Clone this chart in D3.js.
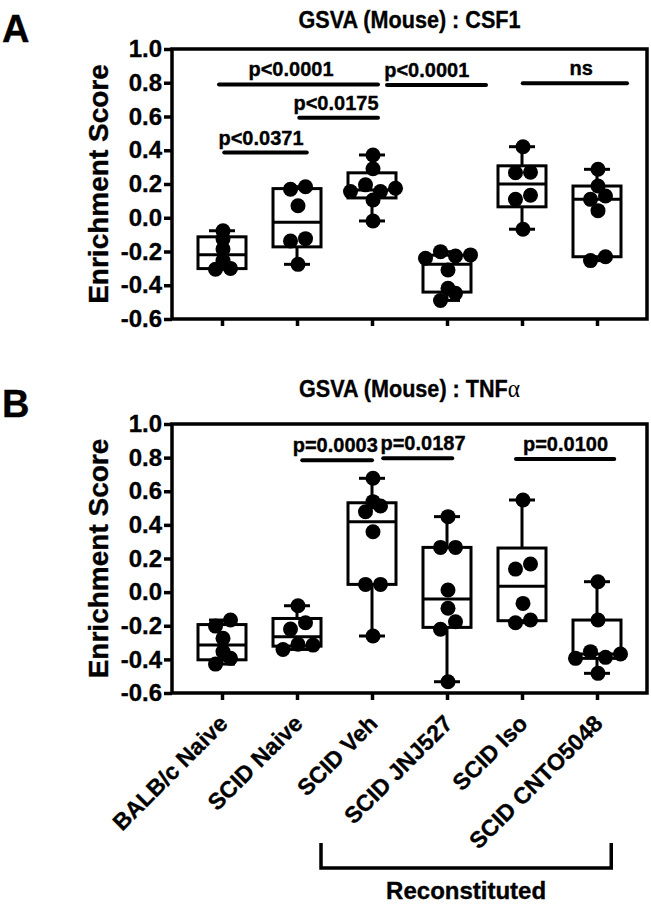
<!DOCTYPE html>
<html><head><meta charset="utf-8">
<script src="https://cdn.jsdelivr.net/npm/d3@7"></script>
<style>
html,body{margin:0;padding:0;background:#fff;}
svg text{font-family:"Liberation Sans",Arial,Helvetica,sans-serif;font-weight:bold;fill:#000;stroke:#000;stroke-width:0.35px;}
</style>
</head><body>
<svg id="chart" width="651" height="908"></svg>
<script>
// ---------- data ----------
const categories = ["BALB/c Naive","SCID Naive","SCID Veh","SCID JNJ527","SCID Iso","SCID CNTO5048"];
const yTickValues = [-0.6,-0.4,-0.2,0.0,0.2,0.4,0.6,0.8,1.0];

// Panel A: GSVA (Mouse) : CSF1 — enrichment scores per group
const csf1BALBcNaive = [-0.305,-0.300,-0.254,-0.185,-0.125,-0.077];
const csf1SCIDNaive  = [-0.276,-0.138,-0.124,0.071,0.169,0.184];
const csf1SCIDVeh    = [-0.019,0.105,0.155,0.195,0.155,0.175,0.290,0.372];
const csf1SCIDJNJ527 = [-0.490,-0.448,-0.418,-0.310,-0.240,-0.201,-0.227,-0.220];
const csf1SCIDIso    = [-0.068,0.109,0.133,0.267,0.270,0.421];
const csf1SCIDCNTO   = [-0.254,-0.231,0.042,0.109,0.129,0.188,0.287];

// Panel B: GSVA (Mouse) : TNFα
const tnfBALBcNaive = [-0.428,-0.394,-0.354,-0.275,-0.202,-0.166];
const tnfSCIDNaive  = [-0.341,-0.310,-0.315,-0.220,-0.182,-0.081];
const tnfSCIDVeh    = [-0.261,0.046,0.046,0.359,0.478,0.512,0.538,0.677];
const tnfSCIDJNJ527 = [-0.533,-0.221,-0.176,-0.096,0.013,0.266,0.266,0.449];
const tnfSCIDIso    = [-0.182,-0.166,-0.067,0.137,0.167,0.548];
const tnfSCIDCNTO   = [-0.483,-0.394,-0.354,-0.388,-0.368,-0.166,0.062];

// significance annotations (from/to/at in category-index units, level in score units)
const csf1SigLabels = ["p<0.0001","p<0.0175","p<0.0371","p<0.0001","ns"];
const csf1SigFrom   = [-0.04,1.03,0.03,2.20,4.01];
const csf1SigTo     = [2.08,2.08,1.13,3.52,5.40];
const csf1SigAt     = [0.92,1.52,0.52,2.73,4.79];
const csf1SigLevel  = [0.790,0.593,0.386,0.787,0.797];

const tnfSigLabels = ["p=0.0003","p=0.0187","p=0.0100"];
const tnfSigFrom   = [1.07,2.15,3.92];
const tnfSigTo     = [2.00,3.07,5.23];
const tnfSigAt     = [1.51,2.68,4.58];
const tnfSigLevel  = [0.785,0.796,0.792];

const bracketFrom = 1.32, bracketTo = 5.19, bracketLabel = "Reconstituted";

// ---------- helpers ----------
const svg = d3.select("#chart");
svg.append("rect").attr("width",651).attr("height",908).attr("fill","#fff");

function quant(sorted, p){ // GraphPad-style (n+1) percentile
  const n = sorted.length;
  let r = p*(n+1); if (r<1) r=1; if (r>n) r=n;
  const lo = Math.floor(r), f = r-lo;
  if (lo>=n) return sorted[n-1];
  return sorted[lo-1] + f*(sorted[lo]-sorted[lo-1]);
}
function swarm(values, y, thresh, step){
  const idx = values.map((v,i)=>i).sort((a,b)=>values[a]-values[b] || a-b);
  const rows=[]; let cur=null;
  idx.forEach(i=>{
    const py=y(values[i]);
    if (cur && Math.abs(py-cur.y0)<thresh) cur.items.push(i);
    else { cur={y0:py,items:[i]}; rows.push(cur); }
  });
  const off = new Array(values.length);
  rows.forEach(r=>{ r.items.sort((a,b)=>a-b); const n=r.items.length;
    r.items.forEach((i,k)=>off[i]=(k-(n-1)/2)*step); });
  return off;
}
const fmt = d => d3.format(".1f")(d).replace("\u2212","-");

const left = 172, right = 647;
const x = d3.scalePoint().domain(categories).range([left,right]).padding(0.6667);
const step = x.step();
const xi = i => x(categories[0]) + i*step;

function panel(cfg){
  const y = d3.scaleLinear().domain([-0.6,1.0]).range([cfg.bottom,cfg.top]);
  const g = svg.append("g");

  // letter + title
  g.append("text").attr("x",2).attr("y",cfg.top-7).style("font-size","38px").text(cfg.letter);
  const t = g.append("text").attr("transform",`translate(${(left+right)/2},${cfg.titleY}) scale(0.9,1)`)
    .attr("text-anchor","middle").style("font-size","24px").text(cfg.title);
  if (cfg.titleExtra) t.append("tspan").style("font-family","'Liberation Serif',serif")
     .style("font-weight","normal").style("stroke-width","0").style("font-size","26px").text(cfg.titleExtra);

  // y axis
  const ya = g.append("g").attr("transform",`translate(${left},0)`)
    .call(d3.axisLeft(y).tickValues(yTickValues).tickSize(8).tickSizeOuter(0).tickPadding(2).tickFormat(fmt));
  ya.select(".domain").remove();
  ya.selectAll(".tick line").attr("stroke","#000").attr("stroke-width",3.5);
  ya.selectAll(".tick text").style("font-size","24px").style("font-family","'Liberation Sans',Arial,sans-serif").style("font-weight","bold");

  // x axis ticks
  const xa = g.append("g").attr("transform",`translate(0,${cfg.bottom})`)
    .call(d3.axisBottom(x).tickSize(7).tickSizeOuter(0).tickFormat(""));
  xa.select(".domain").remove();
  xa.selectAll(".tick line").attr("stroke","#000").attr("stroke-width",3.5);

  // frame
  g.append("rect").attr("x",left).attr("y",cfg.top).attr("width",right-left).attr("height",cfg.bottom-cfg.top)
    .attr("fill","none").attr("stroke","#000").attr("stroke-width",3.5);

  // y title
  g.append("text").attr("transform",`translate(108,${(cfg.top+cfg.bottom)/2}) rotate(-90)`)
    .attr("text-anchor","middle").style("font-size","28px").text("Enrichment Score");

  // boxes
  const bw = 24, cw = 13;
  cfg.groups.forEach((vals,gi)=>{
    const cx = x(categories[gi]);
    const s = vals.slice().sort((a,b)=>a-b);
    const q1 = quant(s,0.25), med = quant(s,0.5), q3 = quant(s,0.75);
    const mn = s[0], mx = s[s.length-1];
    const bg = g.append("g").attr("stroke","#000").attr("stroke-width",3).attr("fill","none");
    bg.append("line").attr("x1",cx).attr("x2",cx).attr("y1",y(mx)).attr("y2",y(q3));
    bg.append("line").attr("x1",cx).attr("x2",cx).attr("y1",y(q1)).attr("y2",y(mn));
    bg.append("line").attr("x1",cx-cw).attr("x2",cx+cw).attr("y1",y(mx)).attr("y2",y(mx));
    bg.append("line").attr("x1",cx-cw).attr("x2",cx+cw).attr("y1",y(mn)).attr("y2",y(mn));
    bg.append("rect").attr("x",cx-bw).attr("y",y(q3)).attr("width",2*bw).attr("height",y(q1)-y(q3));
    bg.append("line").attr("x1",cx-bw).attr("x2",cx+bw).attr("y1",y(med)).attr("y2",y(med));
    const off = swarm(vals,y,8,15);
    g.append("g").selectAll("circle").data(vals).join("circle")
      .attr("cx",(d,i)=>cx+off[i]+1).attr("cy",d=>y(d)).attr("r",7.5).attr("fill","#000");
  });

  // significance bars
  cfg.sigLabels.forEach((lab,i)=>{
    const yy = y(cfg.sigLevel[i]);
    g.append("line").attr("x1",xi(cfg.sigFrom[i])).attr("x2",xi(cfg.sigTo[i]))
      .attr("y1",yy).attr("y2",yy).attr("stroke","#000").attr("stroke-width",4).attr("stroke-linecap","round");
    g.append("text").attr("x",xi(cfg.sigAt[i])).attr("y",yy-8).attr("text-anchor","middle")
      .style("font-size","20px").text(lab);
  });
  return y;
}

panel({letter:"A", title:"GSVA (Mouse) : CSF1", titleY:28, top:49, bottom:319,
  groups:[csf1BALBcNaive,csf1SCIDNaive,csf1SCIDVeh,csf1SCIDJNJ527,csf1SCIDIso,csf1SCIDCNTO],
  sigLabels:csf1SigLabels, sigFrom:csf1SigFrom, sigTo:csf1SigTo, sigAt:csf1SigAt, sigLevel:csf1SigLevel});
panel({letter:"B", title:"GSVA (Mouse) : TNF", titleExtra:"\u03b1", titleY:397, top:424, bottom:693,
  groups:[tnfBALBcNaive,tnfSCIDNaive,tnfSCIDVeh,tnfSCIDJNJ527,tnfSCIDIso,tnfSCIDCNTO],
  sigLabels:tnfSigLabels, sigFrom:tnfSigFrom, sigTo:tnfSigTo, sigAt:tnfSigAt, sigLevel:tnfSigLevel});

// x labels (under panel B)
svg.append("g").selectAll("text").data(categories).join("text")
  .attr("transform",d=>`translate(${x(d)+7},725) rotate(-45)`)
  .attr("text-anchor","end").style("font-size","23px").text(d=>d);

// bracket
const bx1 = xi(bracketFrom), bx2 = xi(bracketTo);
svg.append("path").attr("d",`M${bx1},843 V868 H${bx2} V843`).attr("fill","none")
  .attr("stroke","#000").attr("stroke-width",3.5);
svg.append("text").attr("x",(bx1+bx2)/2).attr("y",899).attr("text-anchor","middle")
  .style("font-size","24px").text(bracketLabel);
</script>
</body></html>
